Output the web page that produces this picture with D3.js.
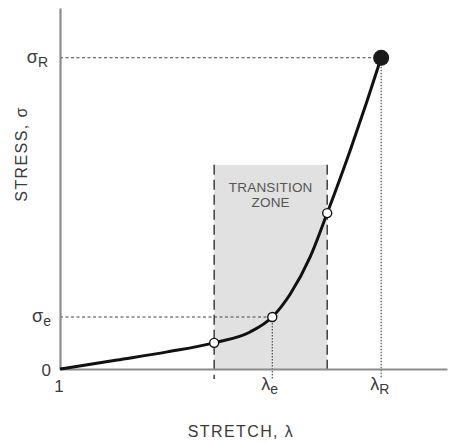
<!DOCTYPE html>
<html>
<head>
<meta charset="utf-8">
<script src="https://cdn.jsdelivr.net/npm/d3@7"></script>
<style>
  body { margin: 0; background: #fff; }
  text { font-family: "Liberation Sans", Arial, sans-serif; fill: #3a3a3a; }
</style>
</head>
<body>
<svg id="chart" width="453" height="443"></svg>
<script>
// stress-stretch curve (stretch λ, stress normalised to σR = 1)
const stretch = [1.0, 1.178, 1.334, 1.48, 1.592, 1.661, 1.717, 1.779, 1.832, 1.904, 1.954, 2.0]
const stress  = [0.0, 0.029, 0.055, 0.084, 0.119, 0.167, 0.241, 0.360, 0.501, 0.704, 0.855, 1.0]

// open markers on the curve
const markStretch = [1.48, 1.661, 1.832]
const markStress  = [0.084, 0.167, 0.501]

// transition zone and key values
const zoneStretch = [1.48, 1.832]
const zoneTop = 0.656
const lambdaE = 1.661, sigmaE = 0.167
const lambdaR = 2.0, sigmaR = 1.0

const svg = d3.select('#chart')

const x = d3.scaleLinear().domain([1, 2.205]).range([60, 447])
const y = d3.scaleLinear().domain([0, 1.16]).range([369, 8])

// transition zone
svg.append('rect')
  .attr('x', x(zoneStretch[0]))
  .attr('y', y(zoneTop))
  .attr('width', x(zoneStretch[1]) - x(zoneStretch[0]))
  .attr('height', y(0) - y(zoneTop))
  .attr('fill', '#e1e1e1')

svg.selectAll('.zoneEdge')
  .data(zoneStretch)
  .enter()
  .append('line')
  .attr('x1', d => x(d))
  .attr('x2', d => x(d))
  .attr('y1', y(zoneTop))
  .attr('y2', (d, i) => i === 0 ? y(0) + 10 : y(0))
  .attr('stroke', '#333')
  .attr('stroke-width', 1.4)
  .attr('stroke-dasharray', '10,5')

const zoneText = svg.append('text')
  .attr('text-anchor', 'middle')
  .style('font-size', '13.5px')
  .style('letter-spacing', '0.2px')
  .style('fill', '#555')
zoneText.append('tspan').attr('x', x((zoneStretch[0] + zoneStretch[1]) / 2)).attr('y', 192).text('TRANSITION')
zoneText.append('tspan').attr('x', x((zoneStretch[0] + zoneStretch[1]) / 2)).attr('y', 207).text('ZONE')

// dotted reference lines
const refs = [
  {x1: x(1), y1: y(sigmaR), x2: x(lambdaR), y2: y(sigmaR), dash: '3,2.5'},
  {x1: x(1), y1: y(sigmaE), x2: x(lambdaE), y2: y(sigmaE), dash: '3,2.5'},
  {x1: x(lambdaR), y1: y(sigmaR), x2: x(lambdaR), y2: y(0) + 9, dash: '1.5,1.5'},
  {x1: x(lambdaE), y1: y(sigmaE), x2: x(lambdaE), y2: y(0) + 10, dash: '1.5,1.5'}
]
svg.selectAll('.ref')
  .data(refs)
  .enter()
  .append('line')
  .attr('x1', d => d.x1).attr('y1', d => d.y1)
  .attr('x2', d => d.x2).attr('y2', d => d.y2)
  .attr('stroke', '#444')
  .attr('stroke-width', 1.1)
  .attr('stroke-dasharray', d => d.dash)

// axes (lines only)
svg.append('g')
  .attr('transform', 'translate(0,' + y(0) + ')')
  .call(d3.axisBottom(x).tickValues([]).tickSizeOuter(0))
svg.append('g')
  .attr('transform', 'translate(' + x(1) + ',0)')
  .call(d3.axisLeft(y).tickValues([]).tickSizeOuter(0))
svg.selectAll('.domain')
  .attr('stroke', '#8c8c8c')
  .attr('stroke-width', 2.2)

// curve
const pts = stretch.map((s, i) => [s, stress[i]])
const line = d3.line()
  .x(d => x(d[0]))
  .y(d => y(d[1]))
  .curve(d3.curveMonotoneX)

svg.append('path')
  .attr('d', line(pts))
  .attr('fill', 'none')
  .attr('stroke', '#111')
  .attr('stroke-width', 3)

svg.selectAll('.mark')
  .data(markStretch)
  .enter()
  .append('circle')
  .attr('cx', d => x(d))
  .attr('cy', (d, i) => y(markStress[i]))
  .attr('r', 4.5)
  .attr('fill', '#fff')
  .attr('stroke', '#111')
  .attr('stroke-width', 1.4)

svg.append('circle')
  .attr('cx', x(lambdaR))
  .attr('cy', y(sigmaR))
  .attr('r', 8)
  .attr('fill', '#1a1a1a')

// tick labels
function subLabel (tx, ty, main, sub, anchor) {
  const t = svg.append('text')
    .attr('x', tx)
    .attr('y', ty)
    .attr('text-anchor', anchor)
    .style('font-size', '18px')
  t.append('tspan').text(main)
  t.append('tspan').attr('dy', 4).style('font-size', '14px').text(sub)
}
subLabel(48, y(sigmaR) + 5, 'σ', 'R', 'end')
subLabel(51, y(sigmaE) + 5, 'σ', 'e', 'end')
subLabel(x(lambdaE) - 11, 390, 'λ', 'e', 'start')
subLabel(x(lambdaR) - 11, 390, 'λ', 'R', 'start')

svg.append('text')
  .attr('x', 51).attr('y', y(0) + 7)
  .attr('text-anchor', 'end')
  .style('font-size', '17px')
  .text('0')
svg.append('text')
  .attr('x', x(1) - 1).attr('y', 392)
  .attr('text-anchor', 'middle')
  .style('font-size', '17px')
  .text('1')

// axis titles
svg.append('text')
  .attr('x', 241).attr('y', 437)
  .attr('text-anchor', 'middle')
  .style('font-size', '16px')
  .style('letter-spacing', '1.4px')
  .text('STRETCH, λ')

svg.append('text')
  .attr('transform', 'translate(27,154) rotate(-90)')
  .attr('text-anchor', 'middle')
  .style('font-size', '16px')
  .style('letter-spacing', '1.4px')
  .text('STRESS, σ')
</script>
</body>
</html>
